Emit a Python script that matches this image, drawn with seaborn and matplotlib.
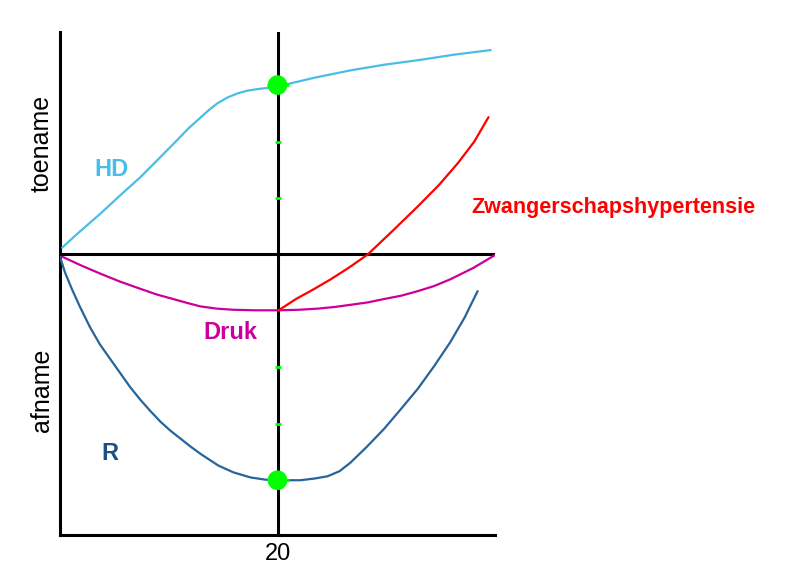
import numpy as np
import pandas as pd
import seaborn as sns
import matplotlib.pyplot as plt

# curves (x = weeks, y = relative change)
hd_x = [0.2, 1.5, 3.7, 5.5, 7.4, 9.0, 10.8, 11.8, 12.9, 13.7, 14.5, 15.4, 16.3, 17.2, 18.2, 19.1, 20.1,
        23.4, 26.7, 29.8, 32.9, 36.3, 39.6]
hd_y = [0.12, 0.35, 0.72, 1.04, 1.37, 1.68, 2.03, 2.23, 2.42, 2.56, 2.68, 2.78, 2.85, 2.90, 2.93, 2.95, 2.98,
        3.13, 3.26, 3.36, 3.44, 3.54, 3.62]

r_x = [0.0, 0.46, 1.11, 1.84, 2.76, 3.69, 4.61, 5.53, 6.45, 7.37, 8.29, 9.22, 10.14, 11.06, 11.98, 12.9,
       14.56, 15.94, 17.51, 18.89, 20.09, 22.1, 23.4, 24.6, 25.7, 26.7, 28.2, 29.8, 31.3, 32.9, 34.4, 35.9,
       37.2, 38.4]
r_y = [-0.04, -0.32, -0.62, -0.93, -1.29, -1.60, -1.85, -2.10, -2.35, -2.57, -2.77, -2.96, -3.12, -3.26,
       -3.40, -3.53, -3.74, -3.86, -3.95, -3.99, -4.00, -4.00, -3.97, -3.93, -3.84, -3.69, -3.41, -3.09,
       -2.75, -2.38, -1.98, -1.55, -1.12, -0.65]

druk_x = [0.2, 2.0, 3.7, 5.5, 7.4, 8.9, 10.4, 11.7, 12.9, 14.4, 15.9, 18.0, 20.1, 22.0, 23.7, 25.3, 26.8,
          28.3, 29.8, 31.4, 32.9, 34.4, 35.9, 38.0, 40.1]
druk_y = [-0.04, -0.20, -0.34, -0.48, -0.61, -0.71, -0.79, -0.86, -0.92, -0.96, -0.98, -0.99, -0.99, -0.98,
          -0.96, -0.93, -0.89, -0.85, -0.79, -0.73, -0.65, -0.56, -0.44, -0.24, 0.0]

zw_x = [20.1, 21.7, 23.3, 24.9, 26.6, 28.3, 30.6, 32.9, 34.8, 36.6, 38.1, 39.4]
zw_y = [-0.99, -0.79, -0.62, -0.44, -0.23, 0.0, 0.42, 0.85, 1.22, 1.62, 2.0, 2.43]

dot_x = [20, 20]
dot_y = [3, -4]
mark_y = [3, 2, 1, -2, -3, -4]

labels = ["HD", "Druk", "R", "Zwangerschapshypertensie"]

sns.set_style("white")
plt.rcParams['font.family'] = ['Liberation Sans', 'DejaVu Sans']

fig = plt.figure(figsize=(7.85, 5.71), dpi=100)
ax = fig.add_axes([60 / 785, 1 - 535 / 571, 435 / 785, 503 / 571])

curves = pd.concat([
    pd.DataFrame({'x': hd_x, 'y': hd_y, 'curve': labels[0]}),
    pd.DataFrame({'x': druk_x, 'y': druk_y, 'curve': labels[1]}),
    pd.DataFrame({'x': r_x, 'y': r_y, 'curve': labels[2]}),
    pd.DataFrame({'x': zw_x, 'y': zw_y, 'curve': labels[3]}),
])
colors = {"HD": "#48BEE6", "Druk": "#CC0099", "R": "#266499", "Zwangerschapshypertensie": "#FF0000"}

# axes lines
ax.axhline(0, color='black', lw=2.2, zorder=2)
ax.axvline(20, color='black', lw=2.2, zorder=2)

sns.lineplot(data=curves, x='x', y='y', hue='curve', palette=colors,
             estimator=None, sort=False, lw=1.6, legend=False, ax=ax, zorder=3)

# green marks on the week-20 line
ax.plot([20] * len(mark_y), mark_y, ls='none', marker='_', color='#00FF00',
        markersize=4, mew=2, zorder=4)
sns.scatterplot(x=dot_x, y=dot_y, color='#00FF00', s=200, edgecolor='none', ax=ax, zorder=5)
ax.plot(dot_x, dot_y, ls='none', marker='_', color='#00FF00', markersize=16, mew=2, zorder=5)

ax.set_xlim(0, 40)
ax.set_ylim(-4.97, 3.94)
ax.set_xticks([20])
ax.set_xticklabels(['20'], fontsize=17, color='black')
ax.set_yticks([])
ax.tick_params(axis='x', length=0, pad=6)
ax.set_xlabel('')
ax.set_ylabel('')
for s in ['top', 'right']:
    ax.spines[s].set_visible(False)
for s in ['left', 'bottom']:
    ax.spines[s].set_linewidth(2.2)
    ax.spines[s].set_color('black')

ax.text(4.7, 1.5, "HD", color="#48BEE6", fontsize=17, fontweight='bold', ha='center', va='center')
ax.text(15.7, -1.38, "Druk", color="#CC0099", fontsize=17, fontweight='bold', ha='center', va='center')
ax.text(4.6, -3.52, "R", color="#1B4F85", fontsize=17, fontweight='bold', ha='center', va='center')
ax.text(37.8, 0.83, "Zwangerschapshypertensie", color="#FF0000", fontsize=15.5,
        fontweight='bold', ha='left', va='center')

fig.text(42 / 785, 1 - 143 / 571, "toename", rotation=90, fontsize=18, color='black', ha='center', va='center')
fig.text(42 / 785, 1 - 390 / 571, "afname", rotation=90, fontsize=18, color='black', ha='center', va='center')

fig.savefig('out.png', dpi=100)
